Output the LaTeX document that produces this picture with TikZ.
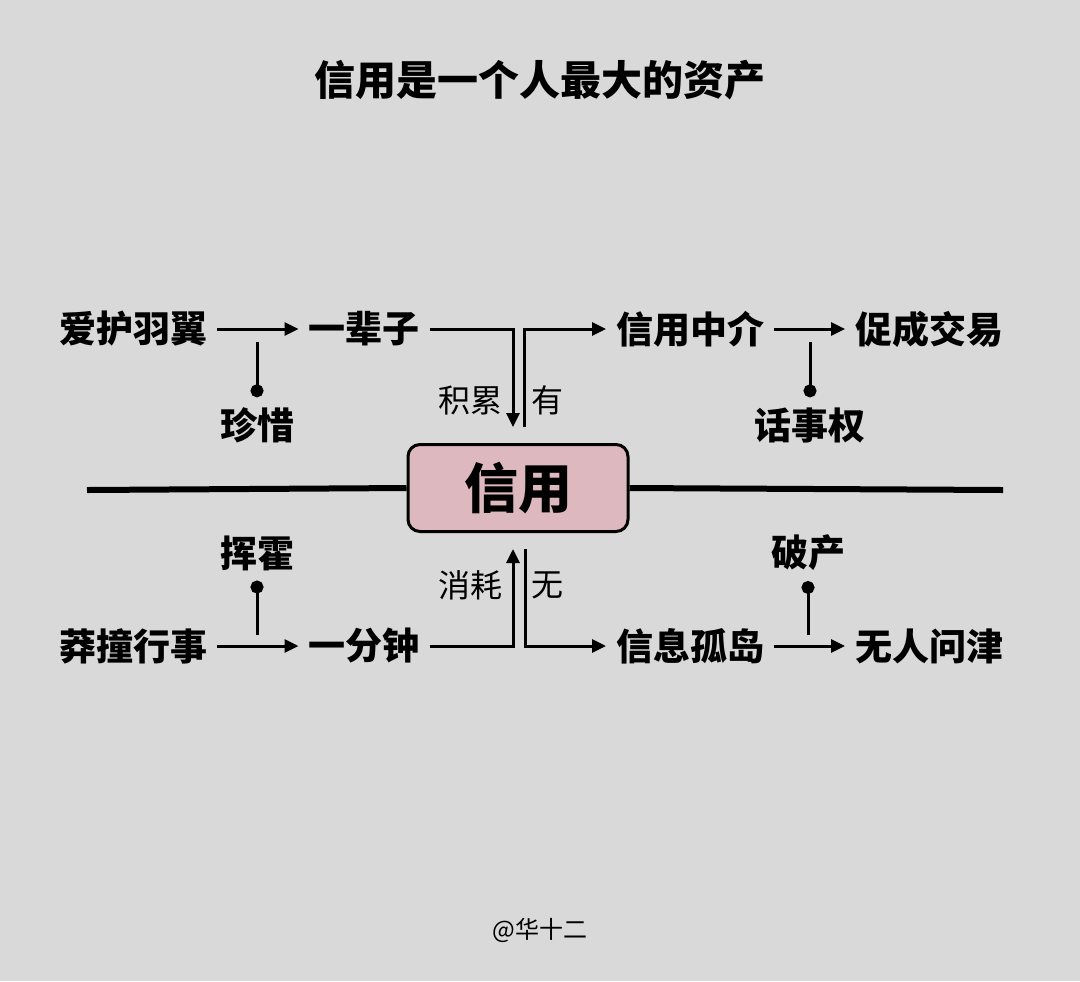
\documentclass[tikz,border=0pt]{standalone}
\usepackage{fontspec}
\usetikzlibrary{arrows.meta}
\newfontfamily\cjk{Noto Sans CJK SC}
\definecolor{paper}{RGB}{217,217,217}
\definecolor{rosebox}{RGB}{221,184,190}

\begin{document}
\begin{tikzpicture}[x=0.5pt,y=-0.5pt,
		word/.style={font=\cjk\bfseries\fontsize{18.5}{20}\selectfont, inner sep=0pt, outer sep=5pt},
		note/.style={font=\cjk\fontsize{16}{18}\selectfont, inner sep=0pt},
		hubbox/.style={draw, line width=1.5pt, fill=rosebox, rounded corners=6pt,
			minimum width=110pt, minimum height=43.5pt, font=\cjk\bfseries\fontsize{27}{30}\selectfont},
		link/.style={line width=1.5pt, -{Triangle[length=7pt,width=6.5pt]}},
		tie/.style={line width=1.5pt, -{Circle[length=6.5pt]}}]
		
		% background
		\fill[paper] (0,0) rectangle (1080,981);
		
		% title
		\node[font=\cjk\bfseries\fontsize{20.5}{24}\selectfont] (title) at (540,80) {信用是一个人最大的资产};
		
		% centre box and main line
		\node[hubbox] (hub) at (518,488) {信用};
		\coordinate (lend) at (87,490);
		\coordinate (rend) at (1003,490);
		\draw[line width=3pt] (lend) -- (hub.west);
		\draw[line width=3pt] (hub.east) -- (rend);
		
		% upper row
		\node[word] (aihu) at (133,329) {爱护羽翼};
		\node[word] (beizi) at (364,329) {一辈子};
		\node[word] (zhongjie) at (690,329) {信用中介};
		\node[word] (jiaoyi) at (929,329) {促成交易};
		\node[word] (zhenxi) at (257,425) {珍惜};
		\node[word] (huaquan) at (810,425) {话事权};
		
		\draw[link] (aihu) -- (beizi);
		\draw[link] (zhongjie) -- (jiaoyi);
		\coordinate (in1) at (513,427);
		\coordinate (out1) at (524,427);
		\draw[link] (beizi.east) -| (in1);
		\draw[link] (out1) |- (zhongjie.west);
		\node[note] (jilei) at (470,400) {积累};
		\node[note] (you) at (547,400) {有};
		
		\coordinate (t1) at (257,342);
		\coordinate (t2) at (810,342);
		\draw[tie] (t1) -- (zhenxi.north);
		\draw[tie] (t2) -- (huaquan.north);
		
		% lower row
		\node[word] (mangzhuang) at (133,646) {莽撞行事};
		\node[word] (fenzhong) at (364,646) {一分钟};
		\node[word] (gudao) at (690,646) {信息孤岛};
		\node[word] (wenjin) at (929,646) {无人问津};
		\node[word] (huihuo) at (257,553) {挥霍};
		\node[word] (pochan) at (808,553) {破产};
		
		\draw[link] (mangzhuang) -- (fenzhong);
		\draw[link] (gudao) -- (wenjin);
		\coordinate (in2) at (513,549);
		\coordinate (out2) at (525,549);
		\draw[link] (fenzhong.east) -| (in2);
		\draw[link] (out2) |- (gudao.west);
		\node[note] (xiaohao) at (470,585) {消耗};
		\node[note] (wu) at (547,585) {无};
		
		\coordinate (t3) at (257,635);
		\coordinate (t4) at (808,635);
		\draw[tie] (t3) -- (huihuo.south);
		\draw[tie] (t4) -- (pochan.south);
		
		% signature
		\node[font=\cjk\fontsize{12}{14}\selectfont] (sign) at (540,930) {@华十二};
	\end{tikzpicture}
\end{document}
